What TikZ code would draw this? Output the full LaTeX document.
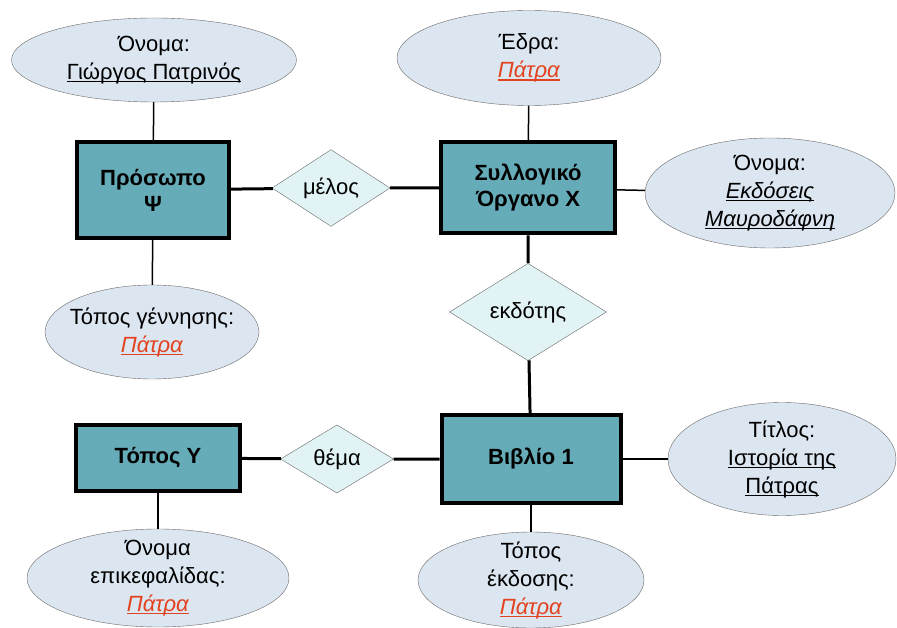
\documentclass[tikz,border=0pt]{standalone}
\usepackage{fontspec}
\setmainfont{Liberation Sans}
\usetikzlibrary{shapes.geometric}

\definecolor{entfill}{RGB}{102,171,184}
\definecolor{relfill}{RGB}{226,243,245}
\definecolor{attfill}{RGB}{220,230,241}
\definecolor{attline}{RGB}{105,105,105}
\definecolor{placered}{RGB}{226,66,30}

\newlength{\ulwd}
\newcommand{\uln}[1]{\settowidth{\ulwd}{#1}\rlap{\rule[-3pt]{\ulwd}{1.2pt}}#1}
\newcommand{\patra}{\textcolor{placered}{\uln{\textit{Πάτρα}}}}

\begin{document}
\begin{tikzpicture}[x=1pt,y=-1pt,
    entity/.style={draw,line width=4pt,fill=entfill,align=center,inner sep=0pt,
        font=\bfseries\fontsize{22}{26}\selectfont},
    relation/.style={diamond,draw=attline,fill=relfill,inner sep=0pt,
        font=\fontsize{22}{28}\selectfont},
    attribute/.style={ellipse,draw=attline,fill=attfill,align=center,
        inner xsep=-12pt,inner ysep=-8pt,font=\fontsize{22}{28}\selectfont},
    strong/.style={line width=3pt},
    weak/.style={line width=1.5pt}]

    \useasboundingbox (0,0) rectangle (897,628);

    % Entities
    \node[entity,minimum width=152,minimum height=96] (person) at (153,190) {Πρόσωπο\\Ψ};
    \node[entity,minimum width=174,minimum height=91] (body) at (528,188) {Συλλογικό\\Όργανο X};
    \node[entity,minimum width=164,minimum height=66] (place) at (158,458) {Τόπος Υ};
    \node[entity,minimum width=179,minimum height=88] (book) at (531,459) {Βιβλίο 1};

    % Relationships
    \node[relation,minimum width=118,minimum height=66] (member) at (331,188) {μέλος};
    \node[relation,minimum width=157,minimum height=77] (publisher) at (528,312) {εκδότης};
    \node[relation,minimum width=113,minimum height=65] (subject) at (337,459) {θέμα};

    % Attributes
    \node[attribute,minimum width=285,minimum height=84] (pname) at (154,60)
        {Όνομα:\\\uln{Γιώργος Πατρινός}};
    \node[attribute,minimum width=214,minimum height=94] (pbirth) at (152,332)
        {Τόπος γέννησης:\\\patra};
    \node[attribute,minimum width=264,minimum height=95] (bseat) at (529,58)
        {Έδρα:\\\patra};
    \node[attribute,minimum width=250,minimum height=110] (bname) at (770,193)
        {Όνομα:\\\uln{\textit{Εκδόσεις}}\\\uln{\textit{Μαυροδάφνη}}};
    \node[attribute,minimum width=262,minimum height=98] (lname) at (158,578)
        {Όνομα\\επικεφαλίδας:\\\patra};
    \node[attribute,minimum width=228,minimum height=113] (btitle) at (782,459)
        {Τίτλος:\\\uln{Ιστορία της}\\\uln{Πάτρας}};
    \node[attribute,minimum width=226,minimum height=96] (bplace) at (531,580)
        {Τόπος\\έκδοσης:\\\patra};

    % Relationship lines
    \draw[strong] (person) -- (member) -- (body);
    \draw[strong] (body) -- (publisher) -- (book);
    \draw[strong] (place) -- (subject) -- (book);

    % Attribute lines
    \draw[weak] (person) -- (pname);
    \draw[weak] (person) -- (pbirth);
    \draw[weak] (body) -- (bseat);
    \draw[weak] (body) -- (bname);
    \draw[weak] (place) -- (lname);
    \draw[weak] (book) -- (btitle);
    \draw[weak] (book) -- (bplace);
\end{tikzpicture}
\end{document}
